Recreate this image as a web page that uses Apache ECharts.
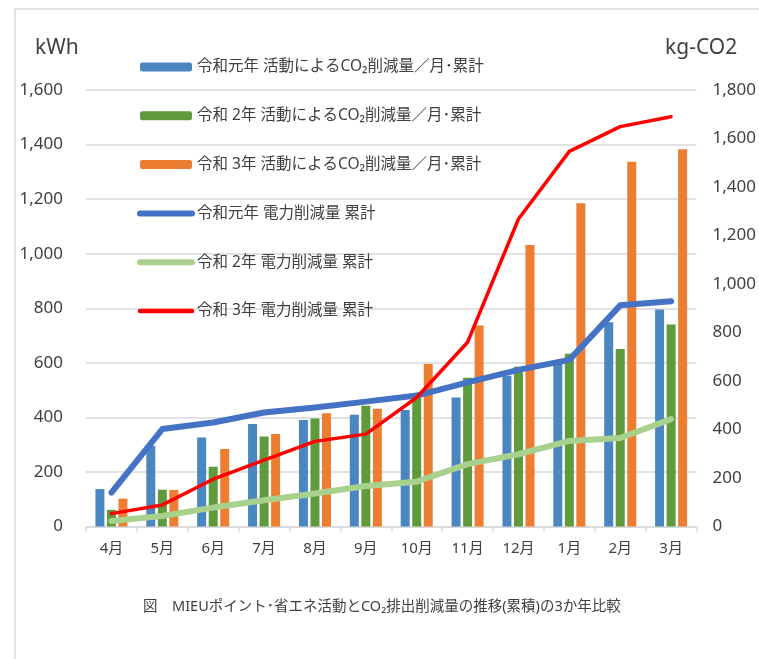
<!DOCTYPE html>
<html>
<head>
<meta charset="utf-8">
<script src="https://cdn.jsdelivr.net/npm/echarts@6/dist/echarts.min.js"></script>
<style>
  html, body { margin: 0; padding: 0; background: #ffffff; }
  #chart { width: 759px; height: 659px; }
</style>
</head>
<body>
<div id="chart"></div>
<script>
// 月（4月〜翌3月）
const months = ['4月', '5月', '6月', '7月', '8月', '9月', '10月', '11月', '12月', '1月', '2月', '3月'];

// 活動によるCO2削減量／月・累計（棒）
const barR1 = [137, 296, 326, 376, 390, 410, 427, 473, 553, 608, 749, 795];
const barR2 = [61, 135, 219, 330, 396, 443, 473, 545, 586, 633, 651, 740];
const barR3 = [102, 134, 284, 339, 415, 432, 596, 737, 1032, 1185, 1337, 1383];

// 電力削減量 累計（折れ線）
const lineR1 = [140, 402, 429, 470, 491, 515, 540, 594, 646, 687, 912, 929];
const lineR2 = [23, 43, 78, 108, 136, 167, 185, 257, 298, 353, 365, 443];
const lineR3 = [53, 89, 195, 274, 351, 381, 532, 760, 1268, 1547, 1649, 1690];

const names = [
  '令和元年 活動によるCO₂削減量／月･累計',
  '令和 2年 活動によるCO₂削減量／月･累計',
  '令和 3年 活動によるCO₂削減量／月･累計',
  '令和元年 電力削減量 累計',
  '令和 2年 電力削減量 累計',
  '令和 3年 電力削減量 累計'
];

const FONT = '"Noto Sans", "Noto Sans CJK JP", sans-serif';
const TEXT = '#404040';
const GRID_COLOR = '#D9D9D9';

const chart = echarts.init(document.getElementById('chart'), null, { renderer: 'canvas' });

function bar(name, data, color) {
  return {
    name, type: 'bar', yAxisIndex: 0, data,
    barWidth: 9, barGap: '28%',
    itemStyle: { color },
    z: 2
  };
}
function line(name, data, color, width) {
  return {
    name, type: 'line', yAxisIndex: 1, data,
    symbol: 'none', smooth: false,
    lineStyle: { color, width, cap: 'round', join: 'round' },
    itemStyle: { color },
    z: 3
  };
}

// legend entries: bars keep the default swatch, lines show a plain thick stroke
const legendData = names.map((n, i) => {
  if (i < 3) return { name: n };
  return {
    name: n,
    itemStyle: { opacity: 0 },
    lineStyle: { width: i === 5 ? 4.5 : 6, cap: 'round', opacity: 1 }
  };
});

chart.setOption({
  backgroundColor: '#ffffff',
  animation: false,
  textStyle: { fontFamily: FONT },
  grid: { left: 86, right: 55, top: 90, bottom: 132.5, containLabel: false },
  legend: {
    orient: 'vertical',
    left: 132, top: 52,
    itemWidth: 52, itemHeight: 9,
    itemGap: 28.8,
    textStyle: { fontFamily: FONT, fontSize: 15.5, color: TEXT, lineHeight: 20 },
    data: legendData
  },
  xAxis: {
    type: 'category',
    data: months,
    boundaryGap: true,
    axisLine: { lineStyle: { color: GRID_COLOR, width: 1.5 } },
    axisTick: { show: true, alignWithLabel: false, length: 5, lineStyle: { color: GRID_COLOR, width: 1.5 } },
    axisLabel: { color: TEXT, fontSize: 15, margin: 15, fontFamily: FONT }
  },
  yAxis: [
    {
      type: 'value', min: 0, max: 1600, interval: 200,
      axisLine: { show: false }, axisTick: { show: false },
      splitLine: { lineStyle: { color: GRID_COLOR, width: 1.5 } },
      axisLabel: {
        color: TEXT, fontSize: 17, margin: 23, fontFamily: FONT,
        formatter: v => v.toLocaleString('en-US')
      }
    },
    {
      type: 'value', min: 0, max: 1800, interval: 200, position: 'right',
      axisLine: { show: false }, axisTick: { show: false },
      splitLine: { show: false },
      axisLabel: {
        color: TEXT, fontSize: 17, margin: 16, fontFamily: FONT,
        formatter: v => v.toLocaleString('en-US')
      }
    }
  ],
  graphic: [
    {
      type: 'rect', silent: true, z: -10,
      shape: { x: 15, y: 9, width: 900, height: 800 },
      style: { fill: 'none', stroke: GRID_COLOR, lineWidth: 1.5 }
    },
    {
      type: 'text', left: 35, top: 38,
      style: { text: 'kWh', fill: TEXT, font: '21px ' + FONT }
    },
    {
      type: 'text', left: 665, top: 38,
      style: { text: 'kg-CO2', fill: TEXT, font: '21px ' + FONT }
    },
    {
      type: 'text', left: 143, top: 600,
      style: {
        text: '図　MIEUポイント･省エネ活動とCO₂排出削減量の推移(累積)の3か年比較',
        fill: TEXT, font: '14.5px ' + FONT
      }
    }
  ],
  series: [
    bar(names[0], barR1, '#4A86C0'),
    bar(names[1], barR2, '#5F9B3C'),
    bar(names[2], barR3, '#ED7D31'),
    line(names[3], lineR1, '#4472C4', 6),
    line(names[4], lineR2, '#A9D18E', 6),
    line(names[5], lineR3, '#FF0000', 3.5)
  ]
});
</script>
</body>
</html>
